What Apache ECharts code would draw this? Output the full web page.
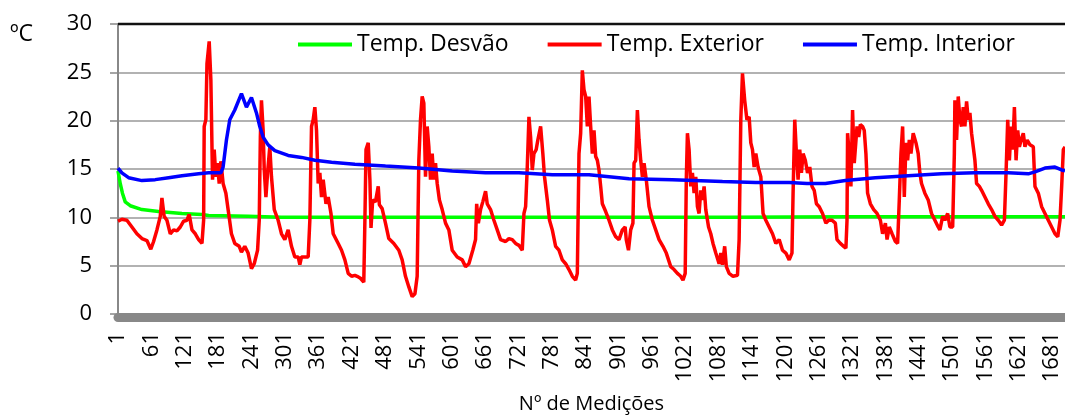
<!DOCTYPE html>
<html><head><meta charset="utf-8">
<script src="https://cdn.jsdelivr.net/npm/echarts@6/dist/echarts.min.js"></script>
<style>html,body{margin:0;padding:0;background:#fff}#c{width:1065px;height:416px}</style>
</head><body><div id="c"></div>
<script>
const exteriorN = [1,8,17,26,35,44,53,60,65,71,77,80,84,89,95,101,107,113,119,125,129,134,140,146,152,155,156,159,161,165,168,171,174,177,180,183,186,190,195,199,205,211,219,223,229,235,241,246,252,255,257,259,262,264,267,270,274,277,282,289,295,301,307,313,319,325,328,331,343,346,349,352,355,358,361,364,367,370,375,379,384,388,397,403,409,415,421,427,431,437,443,445,447,451,454,456,459,464,469,471,476,482,488,497,506,512,518,524,530,535,539,542,545,548,551,554,557,560,563,566,569,572,575,579,584,590,596,602,611,620,626,632,639,644,646,649,653,657,662,665,671,677,683,689,698,704,710,716,722,728,731,734,737,740,743,746,749,753,756,761,765,768,773,777,782,788,794,800,806,812,818,824,827,830,833,836,839,842,845,848,851,854,857,860,863,866,869,872,878,884,890,896,902,908,913,915,919,923,927,929,932,935,938,941,944,947,951,956,962,968,974,981,987,995,1001,1007,1013,1017,1021,1023,1025,1028,1031,1034,1037,1040,1043,1046,1049,1052,1055,1058,1063,1067,1071,1076,1082,1085,1088,1092,1095,1100,1107,1115,1118,1121,1124,1128,1132,1136,1139,1142,1145,1148,1152,1157,1161,1166,1172,1178,1184,1190,1196,1202,1208,1213,1215,1218,1221,1224,1227,1230,1233,1237,1241,1245,1249,1253,1257,1262,1268,1274,1279,1285,1291,1294,1300,1306,1310,1312,1313,1316,1319,1322,1325,1330,1333,1336,1340,1343,1346,1349,1354,1360,1366,1372,1376,1381,1384,1388,1393,1399,1403,1406,1409,1412,1415,1418,1421,1424,1427,1431,1436,1440,1443,1446,1452,1458,1464,1470,1476,1479,1484,1488,1493,1497,1502,1505,1506,1509,1512,1515,1518,1521,1524,1527,1530,1533,1536,1539,1542,1545,1550,1554,1560,1566,1572,1578,1584,1590,1595,1598,1601,1604,1607,1610,1613,1616,1619,1622,1625,1629,1632,1636,1641,1647,1650,1656,1662,1668,1674,1680,1686,1691,1695,1698,1701,1704];
const exteriorT = [9.6,9.8,9.7,9.0,8.3,7.8,7.6,6.7,7.5,8.7,10.1,12.0,10.1,9.7,8.3,8.7,8.6,9.0,9.6,9.7,10.3,8.7,8.3,7.7,7.3,9.7,19.4,20.1,25.9,28.2,24.2,13.9,17.0,14.2,15.6,13.5,15.8,13.5,12.5,10.8,8.3,7.3,7.0,6.4,7.0,6.3,4.7,5.2,6.6,9.7,18.3,22.1,19.0,14.9,12.1,14.6,17.3,14.2,10.8,9.7,8.3,7.7,8.7,7.0,5.9,5.9,5.1,5.9,5.9,9.7,19.4,20.1,21.4,19.0,13.5,14.6,12.1,13.9,11.4,12.1,10.4,8.3,7.3,6.6,5.6,4.2,3.9,4.0,3.9,3.7,3.3,9.7,17.0,17.7,13.9,8.9,11.8,11.6,13.2,11.3,10.9,9.4,7.8,7.3,6.6,5.6,3.9,2.8,1.8,2.1,3.9,15.9,20.1,22.5,21.8,14.2,19.4,17.3,13.9,16.6,13.9,15.6,13.5,11.8,10.8,9.4,8.7,6.6,5.9,5.6,4.9,5.2,6.6,7.7,11.4,9.4,10.8,11.6,12.7,11.4,10.8,9.7,8.7,7.7,7.5,7.8,7.7,7.3,7.1,6.6,10.4,11.1,15.2,20.4,18.3,14.9,16.6,17.0,18.0,19.4,16.6,14.2,11.8,9.7,8.7,7.0,6.6,5.6,5.2,4.6,3.9,3.5,4.2,16.6,18.7,25.2,23.2,22.5,19.4,22.5,19.4,16.6,19.0,16.3,15.9,14.9,13.2,11.4,10.6,9.7,8.7,8.0,7.7,8.7,9.0,7.7,6.6,8.7,9.4,15.6,15.9,21.1,18.0,15.9,14.2,15.6,13.9,11.1,9.7,8.7,7.7,7.0,6.3,4.9,4.6,4.2,3.9,3.5,4.2,13.9,18.7,17.0,13.2,14.6,12.5,14.2,11.1,10.4,12.8,11.8,13.2,10.8,9.0,8.3,7.3,6.3,5.2,6.3,5.1,7.0,4.9,4.2,3.9,4.0,7.7,20.1,24.9,22.1,20.1,20.4,17.7,17.0,15.2,16.6,15.2,14.2,10.4,9.7,9.0,8.3,7.3,7.7,6.6,6.3,5.6,6.3,12.5,20.1,16.6,13.9,17.0,14.6,16.6,15.9,14.6,15.2,13.2,12.8,11.4,11.1,10.4,9.4,9.7,9.7,9.4,7.7,7.3,7.0,6.8,9.7,18.7,16.6,13.2,21.1,15.6,19.4,18.3,19.6,19.4,19.0,16.6,12.5,11.4,10.8,10.4,9.7,8.3,9.4,7.7,9.0,8.3,7.5,7.3,11.8,16.6,19.4,12.1,17.7,15.9,18.0,16.6,18.7,17.7,16.6,14.6,13.5,12.5,11.8,10.4,9.7,9.0,8.7,10.1,9.7,10.4,9.0,9.0,16.6,22.1,18.0,22.5,20.1,19.4,21.4,19.4,22.0,20.1,20.8,18.7,17.3,15.9,13.5,13.2,12.8,12.1,11.4,10.8,10.1,9.7,9.2,9.7,14.6,20.1,15.9,19.4,17.0,21.4,15.9,19.0,17.3,18.0,18.7,17.3,18.0,17.5,17.3,13.2,12.5,11.1,10.4,9.7,9.0,8.3,8.0,9.7,13.2,17.0,17.3];
const interiorN = [1,8,20,44,68,92,116,146,164,186,190,196,202,211,223,232,241,250,256,262,271,283,307,331,355,385,427,482,542,602,662,722,782,848,884,920,998,1088,1148,1208,1240,1273,1309,1363,1422,1482,1542,1602,1638,1650,1668,1686,1698,1704];
const interiorT = [15.1,14.6,14.1,13.8,13.9,14.1,14.3,14.5,14.6,14.6,15.2,18.0,20.1,21.1,22.8,21.4,22.4,20.8,19.4,18.3,17.5,16.9,16.4,16.2,15.9,15.7,15.5,15.3,15.1,14.8,14.6,14.6,14.4,14.4,14.2,14.0,13.9,13.7,13.6,13.6,13.5,13.5,13.8,14.1,14.3,14.5,14.6,14.6,14.5,14.7,15.1,15.2,14.9,14.8];
const desvaoN = [1,5,9,14,23,44,74,116,152,164,235,295,355,700,1100,1318,1500,1704];
const desvaoT = [14.8,13.5,12.5,11.6,11.2,10.8,10.6,10.4,10.3,10.2,10.1,10.0,10.0,10.0,10.0,10.05,10.05,10.05];
const seriesNames = ['Temp. Desvão', 'Temp. Exterior', 'Temp. Interior'];
const yTicks = [0, 5, 10, 15, 20, 25, 30];
const X_MIN = 1, X_MAX = 1704;

const zip = (a, b) => a.map((v, i) => [v, b[i]]);
const FONT = 'Open Sans';
const Y_MAX = yTicks[yTicks.length - 1];
const chart = echarts.init(document.getElementById('c'), null, {renderer: 'canvas'});
const lineSeries = (name, color, n, t) => ({
  name, type: 'line', data: zip(n, t), symbol: 'none', showSymbol: false,
  lineStyle: {color, width: 3.5}, itemStyle: {color}, animation: false
});
chart.setOption({
  animation: false,
  backgroundColor: '#fff',
  grid: {left: 118, right: 0, top: 24, bottom: 102, containLabel: false, outerBoundsMode: 'none'},
  legend: {
    data: seriesNames.map(n => ({name: n, icon: 'rect'})),
    left: 298, top: 33, padding: 0, itemWidth: 54, itemHeight: 4, itemGap: 39,
    textStyle: {fontFamily: FONT, fontSize: 23, color: '#000'}
  },
  xAxis: {
    type: 'value', min: X_MIN, max: X_MAX, interval: 60, offset: 3,
    name: 'Nº de Medições', nameLocation: 'middle', nameGap: 77,
    nameTextStyle: {fontFamily: FONT, fontSize: 20, color: '#000'},
    axisLine: {show: true, onZero: false, lineStyle: {color: '#888', width: 9}},
    axisTick: {show: false}, splitLine: {show: false},
    axisLabel: {rotate: 90, margin: 15, showMaxLabel: false, formatter: v => String(v),
      fontFamily: FONT, fontSize: 22, color: '#000'}
  },
  yAxis: {
    type: 'value', min: yTicks[0], max: Y_MAX, interval: 5,
    axisLine: {show: true, lineStyle: {color: '#888', width: 2}},
    axisTick: {show: true, length: 8, lineStyle: {color: '#888', width: 1.5}},
    splitLine: {lineStyle: {color: '#999', width: 1.5}},
    axisLabel: {margin: 26, fontFamily: FONT, fontSize: 22, color: '#000'}
  },
  series: [
    lineSeries(seriesNames[0], '#00ff00', desvaoN, desvaoT),
    lineSeries(seriesNames[1], '#ff0000', exteriorN, exteriorT),
    lineSeries(seriesNames[2], '#0000ff', interiorN, interiorT)
  ]
});
// plot-area top border and unit label, placed from the axis scales
const pA = chart.convertToPixel({gridIndex: 0}, [X_MIN, Y_MAX]);
const pB = chart.convertToPixel({gridIndex: 0}, [X_MAX, Y_MAX]);
chart.setOption({
  graphic: [
    {type: 'line', z: 100, silent: true,
     shape: {x1: pA[0], y1: pA[1], x2: pB[0] + 2, y2: pB[1]},
     style: {stroke: '#111111', lineWidth: 2.5}},
    {type: 'text', left: 10, top: 23, silent: true,
     style: {text: 'ºC', font: '23px "Open Sans"', fill: '#000'}}
  ]
});
</script></body></html>
